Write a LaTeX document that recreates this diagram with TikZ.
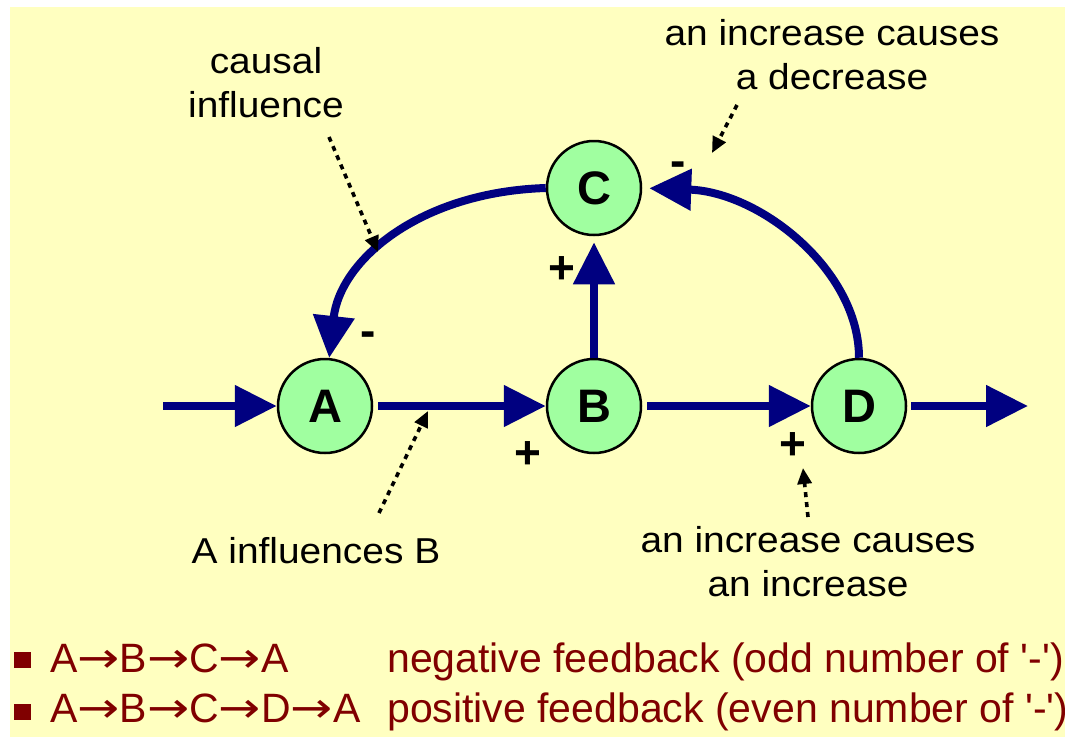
\documentclass[tikz,border=0pt]{standalone}
\usepackage{fontspec}
\setmainfont{Liberation Sans}
\newfontfamily\lblfont{Liberation Sans}[FakeStretch=1.08]
\newfontfamily\arrowfont{DejaVu Sans}[FakeStretch=1.2]
\usetikzlibrary{arrows.meta}
\definecolor{bg}{HTML}{FFFFC0}
\definecolor{nodegreen}{HTML}{A0FFA0}
\definecolor{navyblue}{HTML}{000080}
\definecolor{dred}{HTML}{800000}
\newcommand{\ra}{{\arrowfont\fontsize{42}{50}\selectfont →}}
\begin{document}
\begin{tikzpicture}[x=1pt,y=-1pt,
  var/.style={circle, draw=black, line width=2.5pt, fill=nodegreen, minimum size=94pt, inner sep=0pt, font=\fontsize{47}{47}\selectfont\bfseries},
  link/.style={draw=navyblue, line width=8pt, -{Triangle[length=42pt,width=40pt]}},
  note/.style={draw=black, line width=3.6pt, dash pattern=on 5pt off 5pt, -{Triangle[length=16pt,width=14pt]}},
  lbl/.style={font=\lblfont\fontsize{36}{44}\selectfont, align=center, anchor=base, inner sep=0pt},
  sign/.style={font=\fontsize{46}{46}\selectfont\bfseries, anchor=base, inner sep=0pt},
  item/.style={font=\fontsize{41}{50}\selectfont, text=dred, anchor=base west, inner sep=0pt},
  bulletbox/.style={fill=dred, minimum width=17pt, minimum height=16pt, inner sep=0pt}
]
\useasboundingbox (0,0) rectangle (1065,737);
\fill[bg] (10,7) rectangle (1065,737);

\node[var] (A) at (325,406) {A};
\node[var] (B) at (594,406) {B};
\node[var] (C) at (594,188) {C};
\node[var] (D) at (859,406) {D};

\coordinate (in) at (163,406);
\coordinate (out) at (1028,406);

\draw[link] (in) -- (A.west);
\draw[link, shorten <=5pt] (A.east) -- (B.west);
\draw[link, shorten <=5pt] (B.east) -- (D.west);
\draw[link, shorten <=4pt] (D.east) -- (out);
\draw[link, shorten >=6pt] (B.north) -- (C.south);
\draw[link] (C.west) .. controls (420,192) and (340,260) .. (A.85);
\draw[link, shorten >=7pt] (D.north) .. controls (859,270) and (760,192) .. (C.east);

\node[lbl] (lc) at (266,117) {causal\\influence};
\node[lbl] (ld) at (832,89) {an increase causes\\a decrease};
\node[lbl] (lab) at (316,563) {A influences B};
\node[lbl] (li) at (808,596) {an increase causes\\an increase};

\coordinate (n1s) at (329,137);
\coordinate (n1e) at (378,252);
\coordinate (n2s) at (737,105);
\coordinate (n2e) at (712,153);
\coordinate (n3s) at (379,513);
\coordinate (n3e) at (428,411);
\coordinate (n4s) at (808,517);
\coordinate (n4e) at (803,468);
\draw[note] (n1s) -- (n1e);
\draw[note] (n2s) -- (n2e);
\draw[note] (n3s) -- (n3e);
\draw[note] (n4s) -- (n4e);

\node[sign] (s1) at (528,468) {+};
\node[sign] (s2) at (562,283) {+};
\node[sign] (s3) at (368,346.5) {-};
\node[sign] (s4) at (678,176.5) {-};
\node[sign] (s5) at (793,459) {+};

\node[bulletbox] (b1) at (22,660) {};
\node[bulletbox] (b2) at (22,712) {};
\node[item] (p1) at (50,672) {A\ra B\ra C\ra A};
\node[item] (q1) at (387,672) {negative feedback (odd number of \textquotesingle-\textquotesingle)};
\node[item] (p2) at (50,722) {A\ra B\ra C\ra D\ra A};
\node[item] (q2) at (387,722) {positive feedback (even number of \textquotesingle-\textquotesingle)};
\end{tikzpicture}
\end{document}
